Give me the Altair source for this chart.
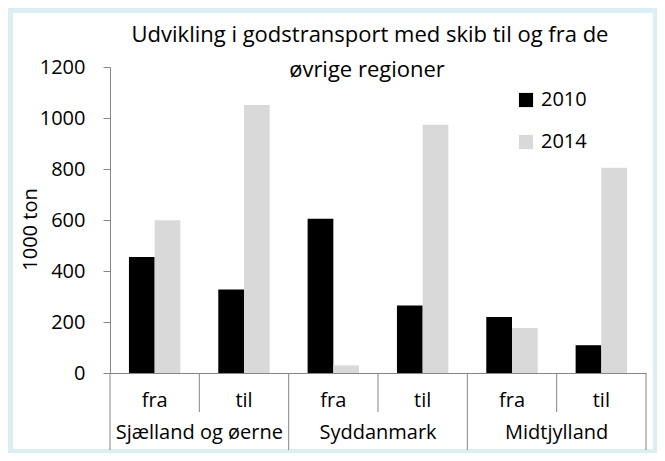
import altair as alt
import pandas as pd

regions = ["Sjælland og øerne", "Syddanmark", "Midtjylland"]
directions = ["fra", "til"]
years = ["2010", "2014"]
v2010 = [455, 327, 605, 265, 220, 109]
v2014 = [599, 1051, 30, 974, 176, 805]
y_ticks = [0, 200, 400, 600, 800, 1000, 1200]
title_lines = ["Udvikling i godstransport  med skib til og fra de", "øvrige regioner"]
y_title = "1000 ton"

keys = [f"{r}|{d}" for r in regions for d in directions]
rows = []
for i, k in enumerate(keys):
    rows.append({"key": k, "year": "2010", "value": v2010[i]})
    rows.append({"key": k, "year": "2014", "value": v2014[i]})
df = pd.DataFrame(rows)

W, H = 536, 306
FONT = "Open Sans"
FS = 20
GREY = "#868686"

x_enc = alt.X("key:N", sort=keys,
              scale=alt.Scale(paddingInner=0, paddingOuter=0),
              axis=alt.Axis(title=None, labelExpr="split(datum.label, '|')[1]",
                            ticks=False, domainColor=GREY, labelFontSize=FS,
                            labelFont=FONT, labelColor="black", labelAngle=0,
                            labelBaseline="alphabetic", labelPadding=33, zindex=1))

bg = alt.Chart(pd.DataFrame({"a": [0]})).mark_rect(color="white").encode(
    x=alt.value(-97), x2=alt.value(543), y=alt.value(-54), y2=alt.value(382))

bars = alt.Chart(df).mark_bar().encode(
    x=x_enc,
    xOffset=alt.XOffset("year:N", sort=years,
                        scale=alt.Scale(paddingOuter=0.737, paddingInner=0)),
    y=alt.Y("value:Q", scale=alt.Scale(domain=[0, 1200]),
            axis=alt.Axis(values=y_ticks, format="d", title=y_title, grid=False,
                          tickSize=7, tickColor=GREY, domainColor=GREY,
                          labelFontSize=FS, labelFont=FONT, labelColor="black",
                          labelPadding=18, titleFont=FONT, titleFontSize=FS,
                          titleFontWeight="normal", titleColor="black",
                          titleX=-80, titleY=162, titleAngle=270,
                          titleAlign="center", titleBaseline="middle", zindex=1)),
    color=alt.Color("year:N",
                    scale=alt.Scale(domain=years, range=["#000000", "#D9D9D9"]),
                    legend=alt.Legend(title=None, orient="none", legendX=406, legendY=23,
                                      symbolType="square", symbolSize=200,
                                      symbolStrokeWidth=0, labelFontSize=FS,
                                      labelFont=FONT, labelColor="black",
                                      rowPadding=22, labelOffset=5, zindex=1)),
)

df_keys = pd.DataFrame({"key": keys, "dir": [k.split("|")[1] for k in keys]})
short_rules = alt.Chart(df_keys[df_keys["dir"] == "til"]).mark_rule(color=GREY).encode(
    x=alt.X("key:N", sort=keys, bandPosition=0), y=alt.value(H), y2=alt.value(H + 39))
long_rules = alt.Chart(df_keys[df_keys["dir"] == "fra"]).mark_rule(color=GREY).encode(
    x=alt.X("key:N", sort=keys, bandPosition=0), y=alt.value(H), y2=alt.value(H + 77))
end_rule = alt.Chart(df_keys.tail(1)).mark_rule(color=GREY).encode(
    x=alt.X("key:N", sort=keys, bandPosition=1), y=alt.value(H), y2=alt.value(H + 77))

df_reg = pd.DataFrame({"key": [f"{r}|fra" for r in regions], "region": regions})
reg_labels = alt.Chart(df_reg).mark_text(font=FONT, fontSize=FS, color="black",
                                         baseline="alphabetic").encode(
    x=alt.X("key:N", sort=keys, bandPosition=1), y=alt.value(H + 66), text="region:N")

t1 = alt.Chart(pd.DataFrame({"t": [title_lines[0]]})).mark_text(
    font=FONT, fontSize=22, color="black", baseline="alphabetic").encode(
    x=alt.value(260), y=alt.value(-25), text="t:N")
t2 = alt.Chart(pd.DataFrame({"t": [title_lines[1]]})).mark_text(
    font=FONT, fontSize=22, color="black", baseline="alphabetic").encode(
    x=alt.value(257), y=alt.value(10), text="t:N")

chart = alt.layer(bg, bars, short_rules, long_rules, end_rule, reg_labels, t1, t2).properties(
    width=W, height=H,
    padding={"left": 102, "top": 59, "right": 11, "bottom": 80},
    autosize=alt.AutoSizeParams(type="none"),
).configure(background="#DAEEF3").configure_view(stroke=None)

chart.save("out.html", embed_options={"renderer": "svg", "actions": False})
